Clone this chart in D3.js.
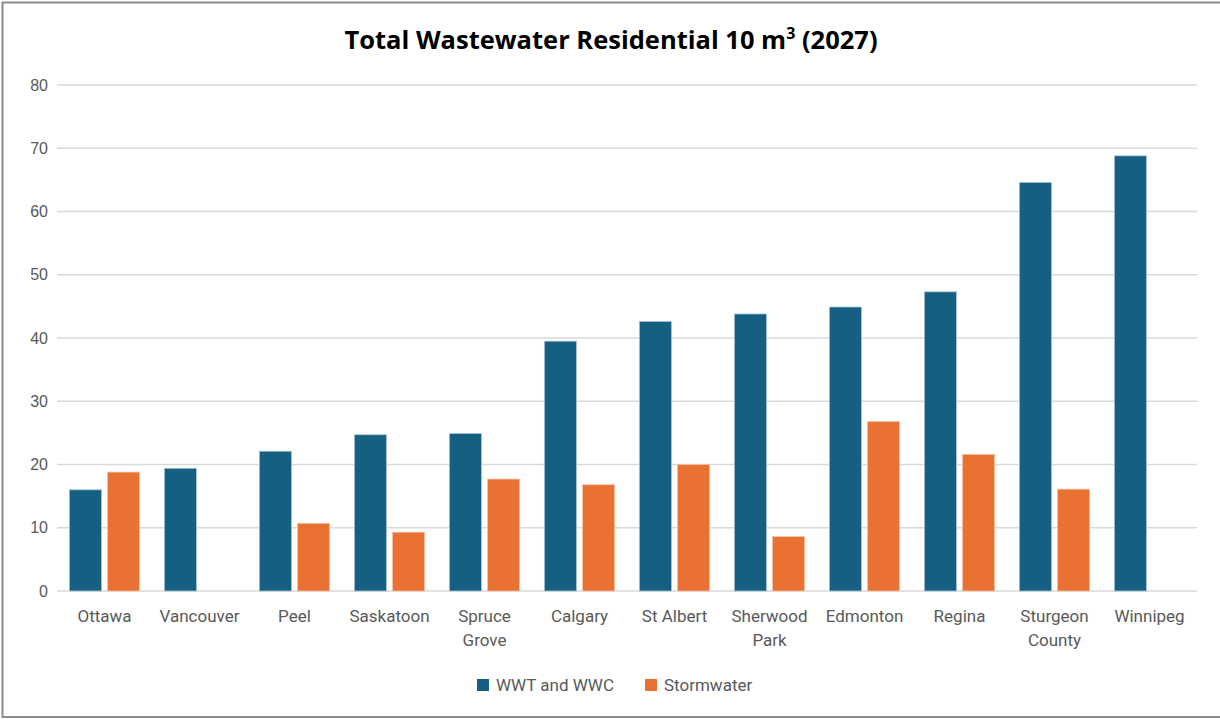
<!DOCTYPE html>
<html>
<head>
<meta charset="utf-8">
<script src="https://cdn.jsdelivr.net/npm/d3@7"></script>
<style>
  html, body { margin: 0; padding: 0; background: #fff; }
  svg { display: block; }
</style>
</head>
<body>
<svg id="chart" width="1220" height="719"></svg>
<script>
// Residential wastewater totals by municipality, 2027
const categories = ["Ottawa", "Vancouver", "Peel", "Saskatoon", "Spruce Grove", "Calgary",
  "St Albert", "Sherwood Park", "Edmonton", "Regina", "Sturgeon County", "Winnipeg"];
const seriesNames = ["WWT and WWC", "Stormwater"];
const wwtValues = [16.0, 19.4, 22.1, 24.7, 24.9, 39.5, 42.6, 43.8, 44.9, 47.3, 64.6, 68.8];
const stormValues = [18.8, null, 10.7, 9.3, 17.7, 16.8, 20.0, 8.6, 26.8, 21.6, 16.1, null];
const yTicks = [0, 10, 20, 30, 40, 50, 60, 70, 80];
const colors = ["#156082", "#E97132"];

const svg = d3.select("#chart");
const W = 1220, H = 719;

// outer frame
svg.append("rect")
  .attr("x", 2.5).attr("y", 2.5).attr("width", W + 10).attr("height", H - 4.5)
  .attr("fill", "none").attr("stroke", "#8c8c8c").attr("stroke-width", 2);

// title with superscript
const title = svg.append("text")
  .attr("x", 611).attr("y", 49)
  .attr("text-anchor", "middle")
  .attr("font-family", "'Open Sans', Lato, sans-serif")
  .attr("font-weight", "bold")
  .attr("font-size", 25.5)
  .attr("fill", "#000");
title.append("tspan").text("Total Wastewater Residential 10 m");
title.append("tspan").attr("font-size", 16).attr("dy", -10).text("3");
title.append("tspan").attr("dy", 10).text(" (2027)");

const plot = { left: 57, right: 1197, top: 85, bottom: 591 };

const x0 = d3.scaleBand().domain(categories)
  .range([plot.left, plot.right]).paddingInner(0.26).paddingOuter(0.13);
const x1 = d3.scaleBand().domain(seriesNames)
  .range([0, x0.bandwidth()]).paddingInner(0.16);
const y = d3.scaleLinear().domain([0, 80]).range([plot.bottom, plot.top]);

// gridlines
svg.append("g").selectAll("line").data(yTicks).join("line")
  .attr("x1", plot.left).attr("x2", plot.right)
  .attr("y1", d => y(d)).attr("y2", d => y(d))
  .attr("stroke", "#d9d9d9").attr("stroke-width", 1.5);

// y axis labels
const yAxis = svg.append("g")
  .attr("transform", `translate(${plot.left - 9},0)`)
  .call(d3.axisLeft(y).tickValues(yTicks).tickSize(0).tickPadding(0));
yAxis.select(".domain").remove();
yAxis.selectAll("text")
  .attr("font-family", "'Liberation Sans', Arial, sans-serif")
  .attr("font-size", 16).attr("fill", "#595959");

// bars
const rows = categories.map((c, i) => ({ cat: c, vals: [wwtValues[i], stormValues[i]] }));
const groups = svg.append("g").selectAll("g").data(rows).join("g")
  .attr("transform", d => `translate(${x0(d.cat)},0)`);
groups.selectAll("rect")
  .data(d => d.vals.map((v, k) => ({ name: seriesNames[k], v, k })).filter(e => e.v != null))
  .join("rect")
  .attr("x", d => x1(d.name))
  .attr("width", x1.bandwidth())
  .attr("y", d => y(d.v))
  .attr("height", d => y(0) - y(d.v))
  .attr("fill", d => colors[d.k])
  .attr("stroke", d => d.k === 0 ? "#a9c4d2" : "#f6c3a8")
  .attr("stroke-width", 0.8);

// category labels
const xAxis = svg.append("g")
  .attr("transform", `translate(0,${plot.bottom})`)
  .call(d3.axisBottom(x0).tickSize(0).tickPadding(0));
xAxis.select(".domain").remove();
xAxis.selectAll("text").remove();
xAxis.selectAll(".tick").each(function(d) {
  const words = d.split(" ");
  const lines = (words.length > 1 && d !== "St Albert") ? words : [d];
  const t = d3.select(this).append("text")
    .attr("text-anchor", "middle")
    .attr("font-family", "Roboto, 'Open Sans', sans-serif")
    .attr("font-size", 17).attr("fill", "#595959");
  lines.forEach((ln, i) => {
    t.append("tspan").attr("x", 0).attr("y", 31 + i * 24).text(ln);
  });
});

// legend
const legend = svg.append("g");
const legendItems = [
  { name: seriesNames[0], color: colors[0], x: 477 },
  { name: seriesNames[1], color: colors[1], x: 645 }
];
legendItems.forEach(it => {
  legend.append("rect").attr("x", it.x).attr("y", 679).attr("width", 12).attr("height", 12)
    .attr("fill", it.color);
  legend.append("text").attr("x", it.x + 19).attr("y", 691)
    .attr("font-family", "Roboto, 'Open Sans', sans-serif")
    .attr("font-size", 17).attr("fill", "#595959").text(it.name);
});
</script>
</body>
</html>
